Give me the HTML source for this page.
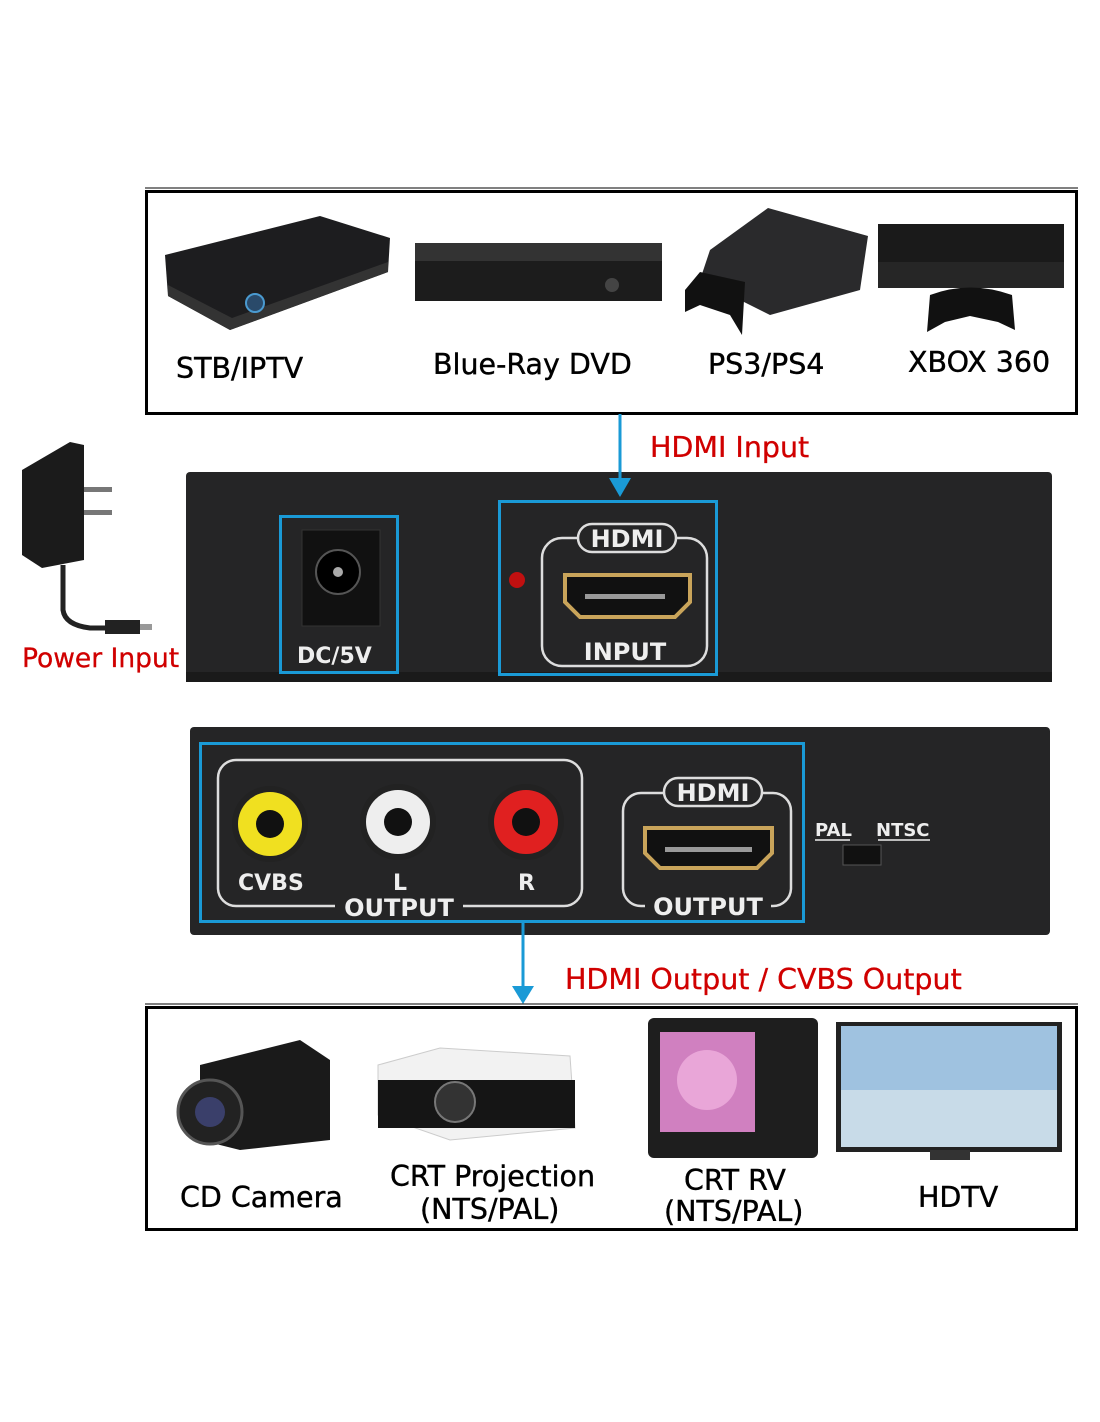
<!DOCTYPE html>
<html><head><style>
body{margin:0;background:#fff}
svg{display:block}
text{font-family:"DejaVu Sans","Liberation Sans",sans-serif}
.l{font-size:28.5px;stroke:#000;stroke-width:0.4}
.r{font-size:28.5px;fill:#d00000;stroke:#d00000;stroke-width:0.3}
</style></head><body>
<svg width="1100" height="1422" viewBox="0 0 1100 1422" xmlns="http://www.w3.org/2000/svg">
<rect width="1100" height="1422" fill="#fff"/>
<!-- top box -->
<line x1="145" y1="188" x2="1078" y2="188" stroke="#000" stroke-width="1"/>
<rect x="146.5" y="191.5" width="930" height="222" fill="none" stroke="#000" stroke-width="3"/>
<!-- STB -->
<path d="M165 255 L320 216 L390 238 L388 272 L230 330 L168 296 Z" fill="#1d1d1f"/>
<path d="M168 296 L230 330 L388 272 L388 262 L232 318 L168 285Z" fill="#333"/>
<circle cx="255" cy="303" r="9" fill="#2a4a6a" stroke="#4a9ad0" stroke-width="2"/>
<!-- DVD -->
<rect x="415" y="243" width="247" height="58" fill="#1c1c1c"/>
<rect x="415" y="243" width="247" height="18" fill="#333"/>
<circle cx="612" cy="285" r="7" fill="#444"/>
<!-- PS3 -->
<path d="M710 250 L768 208 L868 236 L860 290 L770 315 L700 280Z" fill="#2a2a2c"/>
<path d="M685 290 L700 272 L745 282 L742 335 L730 315 L700 305 L685 312Z" fill="#111"/>
<!-- XBOX -->
<rect x="878" y="224" width="186" height="64" fill="#1a1a1a"/>
<rect x="878" y="262" width="186" height="26" fill="#262626"/>
<path d="M930 295 Q970 280 1012 295 L1015 330 L998 322 L970 316 L945 322 L927 332Z" fill="#111"/>
<text x="176" y="378" class="l">STB/IPTV</text>
<text x="433" y="374" class="l">Blue-Ray DVD</text>
<text x="708" y="374" class="l">PS3/PS4</text>
<text x="908" y="372" class="l">XBOX 360</text>
<text x="650" y="457" class="r">HDMI Input</text>
<!-- power adapter -->
<path d="M22 470 L70 442 L84 445 L84 560 L42 568 L22 555Z" fill="#1b1b1b"/>
<rect x="84" y="487" width="28" height="5" fill="#777"/>
<rect x="84" y="510" width="28" height="5" fill="#777"/>
<path d="M63 565 L63 610 Q65 625 90 628 L110 628" stroke="#222" stroke-width="5" fill="none"/>
<rect x="105" y="620" width="35" height="14" fill="#222"/>
<rect x="140" y="624" width="12" height="6" fill="#999"/>
<text x="22" y="667" class="r" style="font-size:26.5px">Power Input</text>
<!-- top device -->
<rect x="186" y="472" width="866" height="210" rx="4" fill="#252526"/>
<rect x="186" y="672" width="866" height="10" fill="#1a1a1a"/>
<line x1="620" y1="414" x2="620" y2="482" stroke="#1a9ad6" stroke-width="3"/>
<path d="M609 478 L631 478 L620 497Z" fill="#1a9ad6"/>
<rect x="280.5" y="516.5" width="117" height="156" fill="none" stroke="#1a9ad6" stroke-width="3"/>
<rect x="302" y="530" width="78" height="96" fill="#111" stroke="#333"/>
<circle cx="338" cy="572" r="22" fill="#000" stroke="#555" stroke-width="2"/>
<circle cx="338" cy="572" r="5" fill="#aaa"/>
<text x="297" y="663" font-size="22" font-weight="bold" fill="#eee">DC/5V</text>
<rect x="499.5" y="501.5" width="217" height="173" fill="none" stroke="#1a9ad6" stroke-width="3"/>
<circle cx="517" cy="580" r="8" fill="#c01010"/>
<rect x="542" y="538" width="165" height="128" rx="20" fill="none" stroke="#ddd" stroke-width="2.5"/>
<rect x="578" y="524" width="98" height="28" rx="14" fill="#252526" stroke="#ddd" stroke-width="2.5"/>
<text x="627" y="547" font-size="24" font-weight="bold" fill="#eee" text-anchor="middle">HDMI</text>
<rect x="575" y="636" width="100" height="28" fill="#252526"/>
<text x="625" y="660" font-size="24" font-weight="bold" fill="#eee" text-anchor="middle">INPUT</text>
<path d="M565 575 L690 575 L690 602 L675 617 L580 617 L565 602Z" fill="#111" stroke="#c9a45a" stroke-width="4"/>
<rect x="585" y="594" width="80" height="5" fill="#999"/>
<!-- bottom device -->
<rect x="190" y="727" width="860" height="208" rx="4" fill="#252526"/>
<rect x="200.5" y="743.5" width="603" height="178" fill="none" stroke="#1a9ad6" stroke-width="3"/>
<rect x="218" y="760" width="364" height="146" rx="18" fill="none" stroke="#ddd" stroke-width="2.5"/>
<rect x="335" y="893" width="128" height="26" fill="#252526"/>
<text x="399" y="916" font-size="24" font-weight="bold" fill="#eee" text-anchor="middle">OUTPUT</text>
<circle cx="270" cy="824" r="38" fill="#222"/><circle cx="270" cy="824" r="32" fill="#f0e020"/><circle cx="270" cy="824" r="14" fill="#111"/>
<circle cx="398" cy="822" r="38" fill="#222"/><circle cx="398" cy="822" r="32" fill="#eee"/><circle cx="398" cy="822" r="14" fill="#111"/>
<circle cx="526" cy="822" r="38" fill="#222"/><circle cx="526" cy="822" r="32" fill="#e02020"/><circle cx="526" cy="822" r="14" fill="#111"/>
<text x="238" y="890" font-size="22" font-weight="bold" fill="#eee">CVBS</text>
<text x="393" y="890" font-size="22" font-weight="bold" fill="#eee">L</text>
<text x="518" y="890" font-size="22" font-weight="bold" fill="#eee">R</text>
<rect x="623" y="793" width="168" height="113" rx="18" fill="none" stroke="#ddd" stroke-width="2.5"/>
<rect x="664" y="778" width="98" height="28" rx="14" fill="#252526" stroke="#ddd" stroke-width="2.5"/>
<text x="713" y="801" font-size="24" font-weight="bold" fill="#eee" text-anchor="middle">HDMI</text>
<rect x="645" y="892" width="126" height="26" fill="#252526"/>
<text x="708" y="915" font-size="24" font-weight="bold" fill="#eee" text-anchor="middle">OUTPUT</text>
<path d="M645 828 L772 828 L772 853 L757 868 L660 868 L645 853Z" fill="#111" stroke="#c9a45a" stroke-width="4"/>
<rect x="665" y="847" width="87" height="5" fill="#999"/>
<text x="815" y="836" font-size="18" font-weight="bold" fill="#eee">PAL</text>
<text x="876" y="836" font-size="18" font-weight="bold" fill="#eee">NTSC</text>
<path d="M815 840 L850 840 M878 840 L930 840" stroke="#eee" stroke-width="1.5"/>
<rect x="843" y="845" width="38" height="20" fill="#111" stroke="#555"/>
<!-- arrow bottom -->
<line x1="523" y1="922" x2="523" y2="990" stroke="#1a9ad6" stroke-width="3"/>
<path d="M512 986 L534 986 L523 1004Z" fill="#1a9ad6"/>
<text x="565" y="989" class="r">HDMI Output / CVBS Output</text>
<!-- bottom box -->
<line x1="145" y1="1004" x2="1078" y2="1004" stroke="#000" stroke-width="1"/>
<rect x="146.5" y="1007.5" width="930" height="222" fill="none" stroke="#000" stroke-width="3"/>
<!-- camera -->
<path d="M200 1065 L300 1040 L330 1060 L330 1140 L240 1150 L200 1140Z" fill="#1a1a1a"/>
<circle cx="210" cy="1112" r="32" fill="#222" stroke="#555" stroke-width="3"/>
<circle cx="210" cy="1112" r="15" fill="#3a3f6a"/>
<!-- projector -->
<path d="M378 1065 L440 1048 L570 1056 L575 1128 L450 1140 L378 1115Z" fill="#f2f2f2" stroke="#ccc"/>
<rect x="378" y="1080" width="197" height="48" fill="#151515"/>
<circle cx="455" cy="1102" r="20" fill="#333" stroke="#777" stroke-width="2"/>
<!-- CRT -->
<rect x="648" y="1018" width="170" height="140" rx="6" fill="#1e1e1e"/>
<rect x="660" y="1032" width="95" height="100" fill="#d080c0"/>
<circle cx="707" cy="1080" r="30" fill="#e9a6d8"/>
<!-- HDTV -->
<rect x="836" y="1022" width="226" height="130" fill="#222"/>
<rect x="841" y="1026" width="216" height="121" fill="#9fc2e0"/>
<rect x="841" y="1090" width="216" height="57" fill="#c8dbe8"/>
<rect x="930" y="1150" width="40" height="10" fill="#333"/>
<text x="180" y="1207" class="l">CD Camera</text>
<text x="390" y="1186" class="l">CRT Projection</text>
<text x="420" y="1219" class="l">(NTS/PAL)</text>
<text x="684" y="1190" class="l">CRT RV</text>
<text x="664" y="1221" class="l">(NTS/PAL)</text>
<text x="918" y="1207" class="l">HDTV</text>
</svg>
</body></html>
